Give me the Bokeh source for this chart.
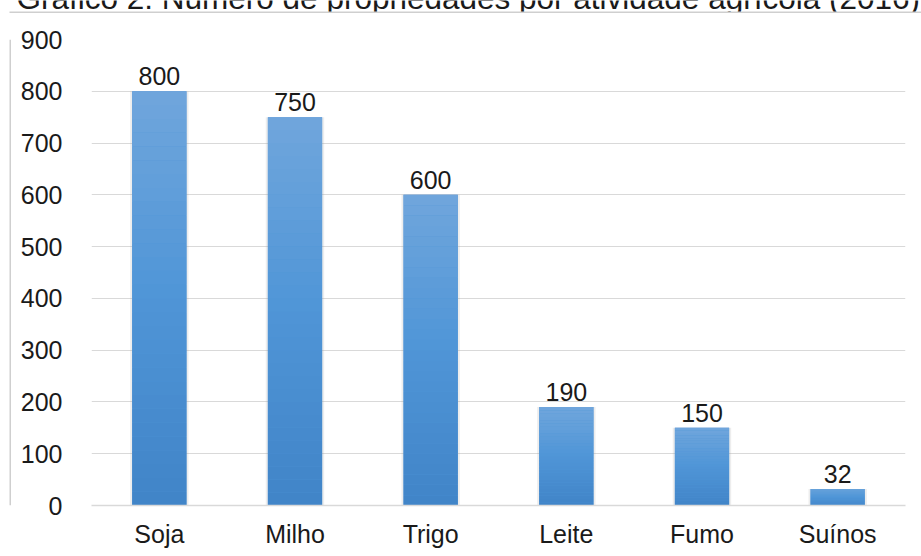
from bokeh.plotting import figure
from bokeh.layouts import column, row
from bokeh.models import ColumnDataSource, Range1d, FixedTicker
from bokeh.core.properties import value
from bokeh.embed import file_html
from bokeh.resources import INLINE

# Número de propriedades por atividade agrícola
categorias = ["Soja", "Milho", "Trigo", "Leite", "Fumo", "Suínos"]
propriedades = [800, 750, 600, 190, 150, 32]
ticks_y = [0, 100, 200, 300, 400, 500, 600, 700, 800, 900]
titulo = "Gráfico 2: Número de propriedades por atividade agrícola (2016)"

FONT = "Liberation Sans"
TXT = "#1a1a1a"
GRID = "#d9d9d9"
BOX = "#cfcfcf"

W, H = 921, 556
TOP_H, LEFT_W = 13, 11


def strip(width, height):
    """Blank pixel-addressed canvas used for the title and the chart box edges."""
    f = figure(width=width, height=height,
               x_range=Range1d(0, width), y_range=Range1d(height, 0),
               x_axis_type=None, y_axis_type=None,
               min_border=0, output_backend="svg", toolbar_location=None,
               background_fill_color="white", border_fill_color="white")
    f.outline_line_color = None
    f.grid.visible = False
    return f


# title band with the top edge of the chart box
top = strip(W, TOP_H)
top.text(x=[16], y=[-3], text=[titulo], text_baseline="middle",
         text_font=value(FONT), text_font_size="31.5px", text_color=TXT)
top.quad(left=[9], right=[W], top=[11], bottom=[13],
         fill_color=BOX, line_color=None)

# left edge of the chart box
left = strip(LEFT_W, H - TOP_H)
left.quad(left=[9], right=[11], top=[0], bottom=[H - TOP_H],
          fill_color=BOX, line_color=None)

src = ColumnDataSource(dict(cat=categorias, val=propriedades,
                            lab=[str(v) for v in propriedades]))

p = figure(x_range=categorias, y_range=Range1d(0, 900),
           frame_width=814, frame_height=466,
           min_border_left=80, min_border_right=16,
           min_border_top=26, min_border_bottom=51,
           output_backend="svg", toolbar_location=None,
           background_fill_color="white", border_fill_color="white")
p.outline_line_color = None

# soft shadow behind each bar
p.vbar(x="cat", top="val", width=0.43, source=src,
       fill_color="#9a9a9a", fill_alpha=0.18, line_color=None)
# bars
p.vbar(x="cat", top="val", width=0.4, source=src,
       fill_color="#4f94d6", line_color=None)

# vertical shading of each bar: darker at the base, lighter at the top
STOPS = [(0.0, (0x41, 0x84, 0xc7)), (0.5, (0x4f, 0x95, 0xd7)), (1.0, (0x70, 0xa6, 0xdc))]


def shade(t):
    for (t0, c0), (t1, c1) in zip(STOPS[:-1], STOPS[1:]):
        if t <= t1:
            u = (t - t0) / (t1 - t0)
            return "#%02x%02x%02x" % tuple(round(a + (b - a) * u) for a, b in zip(c0, c1))
    return "#%02x%02x%02x" % STOPS[-1][1]


N = 30
bx, bb, bt, bc = [], [], [], []
for cat, v in zip(categorias, propriedades):
    for k in range(N):
        bx.append(cat)
        bb.append(v * k / N)
        bt.append(v * (k + 1) / N)
        bc.append(shade((k + 0.5) / N))
p.vbar(x=bx, bottom=bb, top=bt, width=0.4, fill_color=bc, line_color=None)

# value labels above bars
p.text(x="cat", y="val", text="lab", source=src,
       text_align="center", text_baseline="middle", y_offset=-15,
       text_font=value(FONT), text_font_size="25px", text_color=TXT)

# axes
p.yaxis.ticker = FixedTicker(ticks=ticks_y)
p.yaxis.axis_line_color = None
p.yaxis.major_tick_line_color = None
p.yaxis.minor_tick_line_color = None
p.yaxis.major_label_standoff = 23
p.xaxis.axis_line_color = GRID
p.xaxis.axis_line_width = 1.5
p.xaxis.major_tick_line_color = None
p.xaxis.minor_tick_line_color = None
p.xaxis.major_label_standoff = 8
for ax in (p.xaxis, p.yaxis):
    ax.major_label_text_font = FONT
    ax.major_label_text_font_size = "25px"
    ax.major_label_text_color = TXT

p.xgrid.grid_line_color = None
p.ygrid.grid_line_color = GRID
p.ygrid.grid_line_width = 1.2

layout = column(top, row(left, p))

open("out.html", "w").write(file_html(layout, INLINE))
